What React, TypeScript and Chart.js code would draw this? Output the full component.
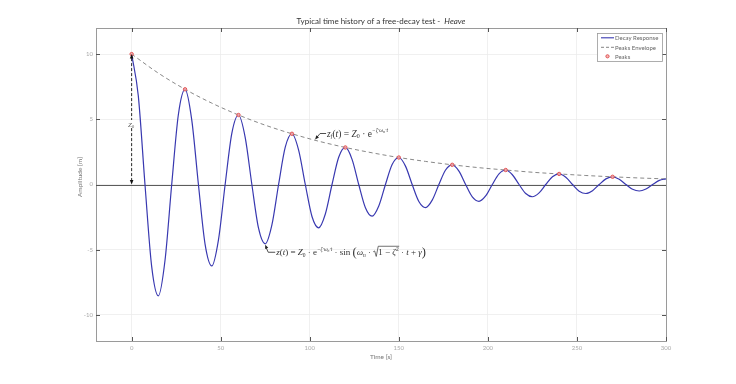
import React, { useEffect, useRef } from 'react';
import { Chart, registerables } from 'chart.js';

Chart.register(...registerables);

// ---- data ----
const timeS = [
  0, 3.75, 7.5, 11.25, 15, 18.75, 22.5, 26.25,
  30, 33.75, 37.5, 41.25, 45, 48.75, 52.5, 56.25,
  60, 63.75, 67.5, 71.25, 75, 78.75, 82.5, 86.25,
  90, 93.75, 97.5, 101.25, 105, 108.75, 112.5, 116.25,
  120, 123.75, 127.5, 131.25, 135, 138.75, 142.5, 146.25,
  150, 153.75, 157.5, 161.25, 165, 168.75, 172.5, 176.25,
  180, 183.75, 187.5, 191.25, 195, 198.75, 202.5, 206.25,
  210, 213.75, 217.5, 221.25, 225, 228.75, 232.5, 236.25,
  240, 243.75, 247.5, 251.25, 255, 258.75, 262.5, 266.25,
  270, 273.75, 277.5, 281.25, 285, 288.75, 292.5, 296.25,
  300,
];
const response = [
  10, 6.8, 0, -6.28, -8.54, -5.81, 0, 5.37,
  7.3, 4.96, 0, -4.59, -6.24, -4.24, 0, 3.92,
  5.33, 3.62, 0, -3.35, -4.55, -3.1, 0, 2.86,
  3.89, 2.64, 0, -2.45, -3.32, -2.26, 0, 2.09,
  2.84, 1.93, 0, -1.78, -2.43, -1.65, 0, 1.53,
  2.07, 1.41, 0, -1.3, -1.77, -1.2, 0, 1.11,
  1.51, 1.03, 0, -0.95, -1.29, -0.88, 0, 0.81,
  1.11, 0.75, 0, -0.69, -0.94, -0.64, 0, 0.59,
  0.81, 0.55, 0, -0.51, -0.69, -0.47, 0, 0.43,
  0.59, 0.4, 0, -0.37, -0.5, -0.34, 0, 0.32,
  0.43,
];
const envTime = [0, 15, 30, 45, 60, 75, 90, 105, 120, 135, 150, 165, 180, 195, 210, 225, 240, 255, 270, 285, 300];
const envelope = [10, 8.54, 7.3, 6.24, 5.33, 4.55, 3.89, 3.32, 2.84, 2.43, 2.07, 1.77, 1.51, 1.29, 1.11, 0.94, 0.81, 0.69, 0.59, 0.5, 0.43];
const peakTime = [0, 30, 60, 90, 120, 150, 180, 210, 240, 270];
const peakValue = [10, 7.3, 5.33, 3.89, 2.84, 2.07, 1.51, 1.11, 0.81, 0.59];
const xTicks = [0, 50, 100, 150, 200, 250, 300];
const yTicks = [-10, -5, 0, 5, 10];
const legendLabels = ['Decay Response', 'Peaks Envelope', 'Peaks'];
const titleMain = 'Typical time history of a free-decay test -  ';
const titleItalic = 'Heave';
const xTitle = 'Time [s]';
const yTitle = 'Amplitude [m]';
// annotation anchor points (data coordinates)
const envArrowTip = { x: 103, y: 3.45 };
const respArrowTip = { x: 75, y: -4.62 };

const SANS = 'Lato, "Noto Sans", sans-serif';
const SERIF = '"Liberation Serif", "DejaVu Serif", serif';
const BLUE = '#3838b0';
const MARK_STROKE = '#e05555';
const MARK_FILL = 'rgba(245,170,170,0.85)';

type Seg = { t?: string; s: number; dy?: number; i?: boolean; rad?: boolean; oe?: boolean };

function drawMath(ctx: CanvasRenderingContext2D, x: number, y: number, segs: Seg[]) {
  let cx = x;
  let overStart: number | null = null;
  ctx.textBaseline = 'alphabetic';
  ctx.textAlign = 'left';
  for (const g of segs) {
    if (g.rad) {
      ctx.beginPath();
      ctx.lineWidth = 0.7;
      ctx.moveTo(cx, y - 3.5);
      ctx.lineTo(cx + 1.4, y - 4.3);
      ctx.lineTo(cx + 3, y + 1.2);
      ctx.lineTo(cx + 5, y - 9);
      ctx.stroke();
      cx += 5;
      overStart = cx;
      continue;
    }
    ctx.font = `${g.i ? 'italic ' : ''}${g.s}px ${SERIF}`;
    ctx.fillText(g.t || '', cx, y + (g.dy || 0));
    cx += ctx.measureText(g.t || '').width;
    if (g.oe && overStart !== null) {
      ctx.beginPath();
      ctx.lineWidth = 0.7;
      ctx.moveTo(overStart, y - 9);
      ctx.lineTo(cx + 0.5, y - 9);
      ctx.stroke();
      overStart = null;
    }
  }
  return cx;
}

function arrowHead(ctx: CanvasRenderingContext2D, tx: number, ty: number, fx: number, fy: number, len = 4.5, half = 1.8) {
  const ang = Math.atan2(ty - fy, tx - fx);
  ctx.beginPath();
  ctx.moveTo(tx, ty);
  ctx.lineTo(tx - len * Math.cos(ang) + half * Math.sin(ang), ty - len * Math.sin(ang) - half * Math.cos(ang));
  ctx.lineTo(tx - len * Math.cos(ang) - half * Math.sin(ang), ty - len * Math.sin(ang) + half * Math.cos(ang));
  ctx.closePath();
  ctx.fill();
}

const decor = {
  id: 'decor',
  beforeDatasetsDraw(chart: any) {
    const { ctx, chartArea: a, scales } = chart;
    const y = scales.y;
    ctx.save();
    const y0 = Math.round(y.getPixelForValue(0)) + 0.5;
    ctx.strokeStyle = '#5c5c5c';
    ctx.lineWidth = 1;
    ctx.beginPath();
    ctx.moveTo(a.left, y0);
    ctx.lineTo(a.right, y0);
    ctx.stroke();
    ctx.restore();
  },
  afterDatasetsDraw(chart: any) {
    const { ctx, chartArea: a, scales } = chart;
    const xs = scales.x;
    const ys = scales.y;
    ctx.save();

    // frame
    ctx.strokeStyle = '#9a9a9a';
    ctx.lineWidth = 1;
    ctx.strokeRect(Math.round(a.left) + 0.5, Math.round(a.top) + 0.5, Math.round(a.right - a.left), Math.round(a.bottom - a.top));

    // inward tick marks on all four sides
    ctx.strokeStyle = '#555';
    ctx.lineWidth = 1;
    ctx.beginPath();
    for (const v of xTicks) {
      const px = Math.round(xs.getPixelForValue(v)) + 0.5;
      ctx.moveTo(px, a.bottom);
      ctx.lineTo(px, a.bottom - 4);
      ctx.moveTo(px, a.top);
      ctx.lineTo(px, a.top + 4);
    }
    for (const v of yTicks) {
      const py = Math.round(ys.getPixelForValue(v)) + 0.5;
      ctx.moveTo(a.left, py);
      ctx.lineTo(a.left + 4, py);
      ctx.moveTo(a.right, py);
      ctx.lineTo(a.right - 4, py);
    }
    ctx.stroke();

    // Z0 double arrow
    ctx.fillStyle = '#111';
    ctx.strokeStyle = '#111';
    const x0 = xs.getPixelForValue(0);
    const yTop = ys.getPixelForValue(10);
    const yBot = ys.getPixelForValue(0);
    ctx.setLineDash([3, 2]);
    ctx.lineWidth = 0.9;
    ctx.beginPath();
    ctx.moveTo(x0, yTop + 4);
    ctx.lineTo(x0, yBot - 4);
    ctx.stroke();
    ctx.setLineDash([]);
    arrowHead(ctx, x0, yTop, x0, yTop + 10);
    arrowHead(ctx, x0, yBot, x0, yBot - 10);
    // Z0 label with white background
    const zy = ys.getPixelForValue(4.6);
    ctx.fillStyle = '#fff';
    ctx.fillRect(x0 - 4, zy - 4.5, 8, 8);
    ctx.fillStyle = '#555';
    drawMath(ctx, x0 - 3.6, zy + 2.3, [
      { t: 'Z', s: 7, i: true },
      { t: '0', s: 4.5, dy: 1.3 },
    ]);

    // envelope annotation
    ctx.fillStyle = '#222';
    ctx.strokeStyle = '#222';
    const et = { x: xs.getPixelForValue(envArrowTip.x), y: ys.getPixelForValue(envArrowTip.y) };
    ctx.lineWidth = 0.8;
    ctx.beginPath();
    ctx.moveTo(et.x + 2, et.y - 2.5);
    ctx.lineTo(et.x + 5, et.y - 6);
    ctx.lineTo(et.x + 11, et.y - 6);
    ctx.stroke();
    arrowHead(ctx, et.x, et.y, et.x + 5, et.y - 6, 4, 1.7);
    ctx.fillStyle = '#333';
    drawMath(ctx, et.x + 12, et.y - 3, [
      { t: 'z', s: 9.5, i: true },
      { t: 'f', s: 6, i: true, dy: 1.8 },
      { t: '(', s: 9.5 },
      { t: 't', s: 9.5, i: true },
      { t: ') = ', s: 9.5 },
      { t: 'Z', s: 9.5, i: true },
      { t: '0', s: 6, dy: 1.8 },
      { t: ' · e', s: 9.5 },
      { t: '−ζ·ω', s: 5.5, i: true, dy: -4.3 },
      { t: 'n', s: 4, i: true, dy: -3.4 },
      { t: '·t', s: 5.5, i: true, dy: -4.3 },
    ]);

    // response annotation
    ctx.fillStyle = '#222';
    ctx.strokeStyle = '#222';
    const rt = { x: xs.getPixelForValue(respArrowTip.x), y: ys.getPixelForValue(respArrowTip.y) };
    ctx.lineWidth = 0.8;
    ctx.beginPath();
    ctx.moveTo(rt.x + 1, rt.y + 3);
    ctx.lineTo(rt.x + 3, rt.y + 7.5);
    ctx.lineTo(rt.x + 10, rt.y + 7.5);
    ctx.stroke();
    arrowHead(ctx, rt.x, rt.y, rt.x + 3, rt.y + 7.5, 4, 1.7);
    ctx.fillStyle = '#333';
    ctx.strokeStyle = '#333';
    drawMath(ctx, rt.x + 11, rt.y + 10.5, [
      { t: 'z', s: 9, i: true },
      { t: '(', s: 9 },
      { t: 't', s: 9, i: true },
      { t: ') = ', s: 9 },
      { t: 'Z', s: 9, i: true },
      { t: '0', s: 5.5, dy: 1.7 },
      { t: ' · e', s: 9 },
      { t: '−ζ·ω', s: 5.2, i: true, dy: -4.2 },
      { t: 'n', s: 3.8, i: true, dy: -3.3 },
      { t: '·t', s: 5.2, i: true, dy: -4.2 },
      { t: ' · sin ', s: 9 },
      { t: '(', s: 12.5, dy: 1.2 },
      { t: 'ω', s: 9, i: true },
      { t: 'n', s: 5.5, i: true, dy: 1.7 },
      { t: ' · ', s: 9 },
      { rad: true, s: 9 },
      { t: '1 − ', s: 9 },
      { t: 'ζ', s: 9, i: true },
      { t: '2', s: 5.5, dy: -4, oe: true },
      { t: ' · ', s: 9 },
      { t: 't', s: 9, i: true },
      { t: ' + ', s: 9 },
      { t: 'γ', s: 9, i: true },
      { t: ')', s: 12.5, dy: 1.2 },
    ]);

    // legend
    const lx = a.right - 69;
    const ly = a.top + 5;
    const lw = 65;
    const lh = 28;
    ctx.fillStyle = '#fff';
    ctx.fillRect(lx, ly, lw, lh);
    ctx.strokeStyle = '#999';
    ctx.lineWidth = 0.8;
    ctx.strokeRect(lx + 0.5, ly + 0.5, lw, lh);
    const rows = [ly + 4.8, ly + 14.3, ly + 23.3];
    ctx.lineWidth = 1.1;
    ctx.strokeStyle = BLUE;
    ctx.beginPath();
    ctx.moveTo(lx + 4, rows[0]);
    ctx.lineTo(lx + 17, rows[0]);
    ctx.stroke();
    ctx.strokeStyle = '#777';
    ctx.lineWidth = 0.9;
    ctx.setLineDash([3, 2]);
    ctx.beginPath();
    ctx.moveTo(lx + 4, rows[1]);
    ctx.lineTo(lx + 17, rows[1]);
    ctx.stroke();
    ctx.setLineDash([]);
    ctx.strokeStyle = MARK_STROKE;
    ctx.fillStyle = MARK_FILL;
    ctx.lineWidth = 1;
    ctx.beginPath();
    ctx.arc(lx + 10.5, rows[2], 1.6, 0, Math.PI * 2);
    ctx.fill();
    ctx.stroke();
    ctx.fillStyle = '#666';
    ctx.font = `6px ${SANS}`;
    ctx.textBaseline = 'middle';
    ctx.textAlign = 'left';
    legendLabels.forEach((l, i) => ctx.fillText(l, lx + 18, rows[i] + 0.3));

    // titles
    ctx.fillStyle = '#333';
    ctx.textBaseline = 'middle';
    ctx.font = `8px ${SANS}`;
    const w1 = ctx.measureText(titleMain).width;
    ctx.font = `italic 8px ${SANS}`;
    const w2 = ctx.measureText(titleItalic).width;
    const cxT = (a.left + a.right) / 2;
    const tx0 = cxT - (w1 + w2) / 2;
    ctx.font = `8px ${SANS}`;
    ctx.fillText(titleMain, tx0, 21.5);
    ctx.font = `italic 8px ${SANS}`;
    ctx.fillText(titleItalic, tx0 + w1, 21.5);

    ctx.fillStyle = '#777';
    ctx.font = `6.5px ${SANS}`;
    ctx.textAlign = 'center';
    ctx.fillText(xTitle, cxT, 357);
    ctx.save();
    ctx.translate(79.5, 177);
    ctx.rotate(-Math.PI / 2);
    ctx.fillText(yTitle, 0, 0);
    ctx.restore();

    ctx.restore();
  },
};

export default function App() {
  const ref = useRef<HTMLCanvasElement>(null);
  useEffect(() => {
    const canvas = ref.current!;
    const chart = new Chart(canvas, {
      type: 'line',
      data: {
        datasets: [
          {
            label: legendLabels[2],
            data: peakTime.map((t, i) => ({ x: t, y: peakValue[i] })),
            showLine: false,
            pointRadius: 1.7,
            pointBorderWidth: 1,
            pointBorderColor: MARK_STROKE,
            pointBackgroundColor: MARK_FILL,
            order: 0,
          },
          {
            label: legendLabels[0],
            data: timeS.map((t, i) => ({ x: t, y: response[i] })),
            borderColor: BLUE,
            borderWidth: 1.2,
            pointRadius: 0,
            cubicInterpolationMode: 'monotone',
            order: 1,
          },
          {
            label: legendLabels[1],
            data: envTime.map((t, i) => ({ x: t, y: envelope[i] })),
            borderColor: '#7a7a7a',
            borderWidth: 0.9,
            borderDash: [4, 3],
            pointRadius: 0,
            cubicInterpolationMode: 'monotone',
            order: 2,
          },
        ],
      },
      options: {
        responsive: false,
        animation: false,
        devicePixelRatio: 1,
        layout: { padding: { left: 0, top: 28, right: 70, bottom: 0 } },
        plugins: { legend: { display: false }, title: { display: false }, tooltip: { enabled: false } },
        scales: {
          x: {
            type: 'linear',
            min: -20,
            max: 300,
            afterBuildTicks: (s: any) => { s.ticks = xTicks.map((v) => ({ value: v })); },
            afterFit: (s: any) => { s.height = 43; },
            ticks: { color: '#aaa', font: { family: SANS, size: 6 }, padding: 3, maxRotation: 0 },
            grid: { color: '#ececec', lineWidth: 0.8, drawTicks: false },
            border: { display: false },
          },
          y: {
            type: 'linear',
            min: -12,
            max: 12,
            afterBuildTicks: (s: any) => { s.ticks = yTicks.map((v) => ({ value: v })); },
            afterFit: (s: any) => { s.width = 96; },
            ticks: { color: '#aaa', font: { family: SANS, size: 6 }, padding: 3 },
            grid: { color: '#ececec', lineWidth: 0.8, drawTicks: false },
            border: { display: false },
          },
        },
      },
      plugins: [decor],
    } as any);
    return () => chart.destroy();
  }, []);
  return (
    <div style={{ position: 'fixed', left: 0, top: 0, width: 736, height: 384, background: '#fff' }}>
      <canvas ref={ref} width={736} height={384} style={{ width: 736, height: 384, display: 'block' }} />
    </div>
  );
}
